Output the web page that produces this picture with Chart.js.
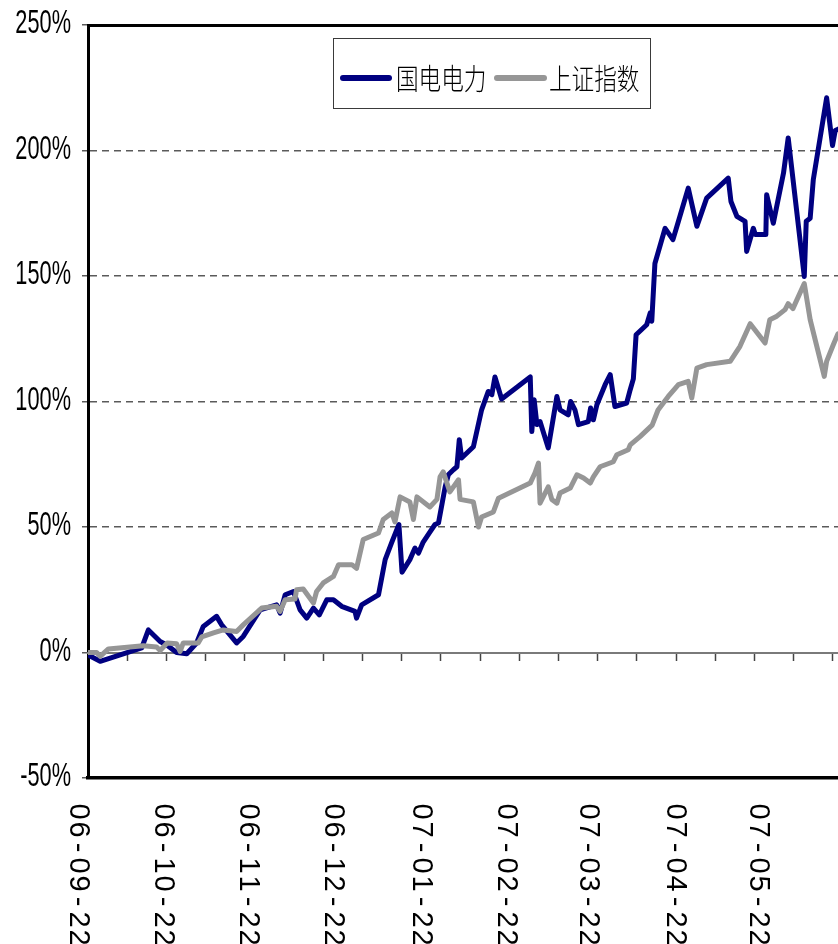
<!DOCTYPE html>
<html><head><meta charset="utf-8">
<script src="https://cdn.jsdelivr.net/npm/chart.js@4.4.1/dist/chart.umd.min.js"></script>
<style>html,body{margin:0;padding:0;background:#fff;overflow:hidden}#c{display:block}</style>
</head><body>
<canvas id="c" width="838" height="944"></canvas>
<script>
// ---- data ----
const seriesNames = ['国电电力', '上证指数'];
const xLabels = ['06-09-22','06-10-22','06-11-22','06-12-22','07-01-22','07-02-22','07-03-22','07-04-22','07-05-22'];
const xLabelDays = [0, 21.7, 43.4, 65.1, 87.5, 109.2, 130.1, 152.3, 173.5];
const yTickValues = [-50, 0, 50, 100, 150, 200, 250];
const xMaxDay = 191.3;
const xTickStep = 10;

const gdDays = [0,3.1,13.7,15.4,18.4,20.1,22.6,25.2,27.7,29.4,
  32.8,34.1,37.9,39.6,43.9,48.1,49.0,50.3,52.4,54.1,
  55.8,57.5,59.0,60.9,62.6,64.7,68.1,68.5,69.8,74.1,
  75.8,77.5,79.3,80.1,82.1,83.4,84.3,85.5,87.2,88.5,
  89.4,91.1,91.9,93.2,94.1,94.7,95.3,98.3,100.4,102.1,
  103.0,103.8,105.5,112.8,113.2,113.8,114.5,115.3,117.4,119.6,
  120.4,122.5,123.1,124.2,125.1,127.6,128.2,128.9,129.8,131.9,
  133.2,134.4,137.4,138.3,139.1,139.8,142.5,143.4,143.8,144.6,
  147.2,149.2,150.6,153.1,155.3,157.8,163.3,164.0,165.5,167.6,
  168.0,169.7,170.2,172.9,173.1,174.8,177.4,178.6,182.7,183.2,
  184.2,185.0,188.4,189.9,190.6,191.3];
const gdValues = [-1,-3.5,1.8,9,4.4,3,0,-0.5,3.8,10.4,
  14.4,11,3.8,6.4,17,19,15.7,23,24.3,17,
  13.7,17.7,15,21,21,18.4,16.4,13.7,19,23,
  37,44,51,32,37,41.6,39.6,44,48,51,
  51.6,66,70.8,72.8,74,84.8,77.5,82,96.7,104,
  102.7,109.8,101,109.8,88,100.7,90.8,92,81.5,102,
  96.7,94.7,100,96.7,90.8,92,97.4,92.7,98.7,106.7,
  110.7,98,99.4,104.7,109,126.6,130.6,135.3,132,155,
  169,164.5,171.8,185,169.8,181,189,179.7,173.8,171.8,
  159.8,169,166.5,166.5,182.4,171,191,205,149.8,171.8,
  173,188.4,221,202,208,208.5];

const szDays = [0,2.2,3.1,5.2,14.1,17.5,18.4,20.2,22.6,23.5,
  24.3,28.1,29.0,32.0,34.5,37.9,39.6,44.3,48.1,49.0,
  50.3,52.8,53.2,54.9,57.5,58.3,60.0,62.6,63.9,67.3,
  68.5,70.2,74.1,75.3,77.5,78.3,79.6,82.1,83.0,83.9,
  87.2,89.0,89.8,90.6,92.3,94.5,94.9,98.3,99.6,100.4,
  103.4,104.7,112.8,114.0,114.9,115.3,117.4,118.3,119.6,120.4,
  123.0,124.7,126.4,128.1,128.9,130.6,134.0,134.9,137.8,138.3,
  140.8,143.9,145.4,148.0,150.6,153.1,154.0,155.3,157.8,163.8,
  166.3,168.9,172.7,173.9,175.7,177.8,178.6,179.8,182.7,184.2,
  187.8,188.4,190.1,191.3];
const szValues = [0,0,-1.5,1.4,2.7,2.2,0.8,3.8,3.5,0.4,
  3.8,3.8,6.2,7.8,9,8.4,11,17.7,18.4,16.4,
  21,21.3,25,25.3,19.7,24.3,27.7,30.3,35,35,
  33.5,45,47.6,53,55.6,52,62,60,53,62,
  58,61,70,72,64,68.8,61,60,50,54,
  56,61.5,67.5,71.5,75.5,59.5,66,61,59.5,63.5,
  65.5,70.8,69.5,67.5,70,74,76,78.8,80.8,82.7,
  86,90.6,96.6,102,106.7,108,101.4,113.3,114.7,116,
  122,131,123.3,132.6,134,136.6,139,137,147,132.6,
  110,116,122.6,127];

// ---- helpers ----
const toPts = (xs, ys) => xs.map((x, i) => ({x: x, y: ys[i]}));
const zeroAxisTicks = [];
for (let v = 0; v <= xMaxDay; v += xTickStep) zeroAxisTicks.push(v);

const textPlugin = {
  id: 'texts',
  afterDraw(chart) {
    const ctx = chart.ctx;
    const ys = chart.scales.y;
    const xs = chart.scales.x;
    ctx.save();
    ctx.fillStyle = '#000';
    // y tick labels (condensed)
    ctx.font = '34px "Liberation Sans", Arial, sans-serif';
    ctx.textAlign = 'right';
    ctx.textBaseline = 'middle';
    ys.ticks.forEach(t => {
      const py = ys.getPixelForValue(t.value);
      ctx.save();
      ctx.translate(71, py - 1);
      ctx.scale(0.64, 1);
      ctx.fillText(t.value + '%', 0, 0);
      ctx.restore();
    });
    // x labels rotated clockwise, one character per cell
    const fs = 29;
    ctx.font = fs + 'px "Liberation Sans", Arial, sans-serif';
    ctx.textAlign = 'center';
    ctx.textBaseline = 'alphabetic';
    xLabels.forEach((lab, i) => {
      const cx = xs.getPixelForValue(xLabelDays[i]) - 8;
      Array.from(lab).forEach((ch, j) => {
        const cy = 811.5 + j * 18;
        ctx.save();
        ctx.translate(cx - 0.358 * fs, cy);
        ctx.rotate(Math.PI / 2);
        ctx.fillText(ch, 0, 0);
        ctx.restore();
      });
    });
    // legend
    ctx.fillStyle = '#fff';
    ctx.fillRect(333, 38, 317, 70);
    ctx.strokeStyle = '#3a3a3a';
    ctx.lineWidth = 1;
    ctx.strokeRect(333.5, 38.5, 317, 70);
    const ds = chart.data.datasets;
    const items = [{x0: 343, x1: 389, tx: 396}, {x0: 497, x1: 544, tx: 549}];
    items.forEach((it, k) => {
      ctx.beginPath();
      ctx.lineCap = 'round';
      ctx.lineWidth = 6;
      ctx.strokeStyle = ds[k].borderColor;
      ctx.moveTo(it.x0, 78);
      ctx.lineTo(it.x1, 78);
      ctx.stroke();
      ctx.save();
      ctx.fillStyle = '#000';
      ctx.font = '300 29px "Noto Sans CJK SC", sans-serif';
      ctx.textAlign = 'left';
      ctx.textBaseline = 'middle';
      ctx.translate(it.tx, 79);
      ctx.scale(0.78, 1);
      ctx.fillText(ds[k].label, 0, 0);
      ctx.restore();
    });
    ctx.restore();
  }
};

new Chart(document.getElementById('c'), {
  type: 'line',
  data: {
    datasets: [
      {label: seriesNames[0], data: toPts(gdDays, gdValues), borderColor: '#000080', borderWidth: 5,
       pointRadius: 0, tension: 0, borderJoinStyle: 'round', borderCapStyle: 'round', fill: false,
       xAxisID: 'x', yAxisID: 'y', order: 2},
      {label: seriesNames[1], data: toPts(szDays, szValues), borderColor: '#969696', borderWidth: 5,
       pointRadius: 0, tension: 0, borderJoinStyle: 'round', borderCapStyle: 'round', fill: false,
       xAxisID: 'x', yAxisID: 'y', order: 1}
    ]
  },
  options: {
    responsive: false,
    animation: false,
    devicePixelRatio: 1,
    layout: {padding: {top: 25, left: 0, right: 0, bottom: 0}},
    plugins: {legend: {display: false}, tooltip: {enabled: false}},
    scales: {
      y: {
        type: 'linear', position: 'left', min: yTickValues[0], max: yTickValues[yTickValues.length - 1],
        afterBuildTicks: s => { s.ticks = yTickValues.map(v => ({value: v})); },
        ticks: {display: false},
        grid: {
          color: c => (c.tick && (c.tick.value === 0 || c.tick.value === 250 || c.tick.value === -50)) ? 'rgba(0,0,0,0)' : '#5a5a5a',
          lineWidth: 1.5, drawTicks: true, tickLength: 6, tickColor: '#5a5a5a', tickWidth: 1.5
        },
        border: {display: true, color: '#000', width: 3, dash: [7, 5]},
        afterFit: s => { s.width = 88; }
      },
      x: {
        type: 'linear', position: 'bottom', min: 0, max: xMaxDay,
        ticks: {display: false},
        grid: {display: false, drawTicks: false},
        border: {display: true, color: '#000', width: 3.5},
        afterFit: s => { s.height = 944 - 778; }
      },
      xTop: {
        axis: 'x', type: 'linear', position: 'top', min: 0, max: xMaxDay,
        ticks: {display: false},
        grid: {display: false, drawTicks: false},
        border: {display: true, color: '#000', width: 3},
        afterFit: s => { s.height = 0; }
      },
      xZero: {
        axis: 'x', type: 'linear', position: {y: 0}, min: 0, max: xMaxDay,
        afterBuildTicks: s => { s.ticks = zeroAxisTicks.map(v => ({value: v})); },
        ticks: {display: false},
        grid: {drawOnChartArea: false, drawTicks: true, tickLength: 7, tickColor: '#444', tickWidth: 1.5},
        border: {display: true, color: '#7a7a7a', width: 2}
      }
    }
  },
  plugins: [textPlugin]
});
</script>
</body></html>
